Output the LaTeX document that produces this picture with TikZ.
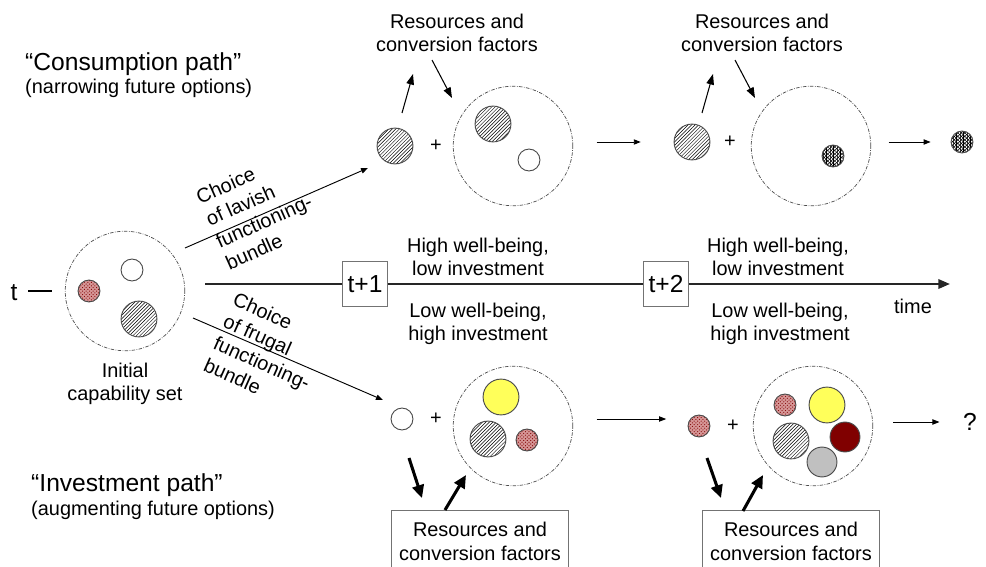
\documentclass[tikz,border=0pt]{standalone}
\usepackage{fontspec}
\setmainfont{Liberation Sans}
\usetikzlibrary{arrows.meta,patterns,positioning}

\definecolor{fnyellow}{RGB}{255,255,90}
\definecolor{fndark}{RGB}{128,0,0}
\definecolor{fngray}{RGB}{192,192,192}
\definecolor{fnpink}{RGB}{214,150,150}

\tikzset{
    txt/.style={font=\fontsize{17}{20}\selectfont, inner sep=0pt},
    bigtxt/.style={font=\fontsize{21}{24}\selectfont, inner sep=0pt},
    capset/.style={circle, draw=black!70, line width=0.6pt,
        dash pattern=on 3pt off 1.2pt on 0.6pt off 1.2pt,
        minimum size=102pt, inner sep=0pt},
    fn/.style={circle, draw=black!70, line width=0.8pt, inner sep=0pt},
    fnL/.style={fn, minimum size=30.6pt},
    fnM/.style={fn, minimum size=25.5pt},
    fnS/.style={fn, minimum size=18.7pt},
    hatched/.style={pattern=north east lines},
    reddots/.style={preaction={fill=fnpink}, pattern=crosshatch dots,
        pattern color=fndark},
    blackgrid/.style={preaction={pattern=vertical lines}, pattern=crosshatch},
    tbox/.style={draw=black!55, line width=0.6pt, minimum width=38pt,
        minimum height=38pt, inner sep=0pt, font=\fontsize{21}{24}\selectfont},
    resbox/.style={draw=black!55, line width=0.6pt, minimum width=151pt,
        minimum height=52.7pt, align=center, font=\fontsize{17}{20.5}\selectfont},
    thinarr/.style={line width=0.8pt, -{Triangle[length=6pt,width=4.5pt]}},
    resarr/.style={line width=0.9pt, -{Triangle[length=9pt,width=6.5pt]}},
    boldarr/.style={line width=2.6pt, -{Triangle[length=11pt,width=10pt]}},
    timeline/.style={line width=2pt, black!85, -{Triangle[length=10pt,width=8pt]}}
}

\begin{document}
\begin{tikzpicture}[x=0.03cm, y=-0.03cm]
    \useasboundingbox (0,0) rectangle (986,567);

    % path titles
    \node[bigtxt, anchor=base west] (conslab) at (25,71) {“Consumption path”};
    \node[txt, anchor=base west] (conssub) at (25,94) {(narrowing future options)};
    \node[bigtxt, anchor=base west] (invlab) at (31,491) {“Investment path”};
    \node[txt, anchor=base west] (invsub) at (31,515) {(augmenting future options)};

    % initial capability set
    \node[bigtxt] (tlab) at (14,293) {t};
    \node[capset] (init) at (125,291) {};
    \node[fnS] (i1) at (132,270) {};
    \node[fnS, reddots] (i2) at (89,291) {};
    \node[fnL, hatched] (i3) at (139,319) {};
    \node[txt, align=center] (initlab) at (125,384) {Initial\\capability set};
    \draw[line width=1pt, shorten <=9pt, shorten >=11pt] (tlab.east |- init) -- (init.west);

    % time axis
    \coordinate (tl0) at (205,284);
    \coordinate (tlend) at (950,284);
    \node[tbox] (tp1) at (365,284) {t+1};
    \node[tbox] (tp2) at (666,284) {t+2};
    \draw[timeline] (tl0) -- (tp1.west) (tp1.east) -- (tp2.west) (tp2.east) -- (tlend);
    \node[txt] (timelab) at (913,306) {time};
    \node[txt, align=center] (hw1) at (478,257) {High well-being,\\low investment};
    \node[txt, align=center] (lw1) at (478,324) {Low well-being,\\high investment};
    \node[txt, align=center] (hw2) at (778,257) {High well-being,\\low investment};
    \node[txt, align=center] (lw2) at (780,324) {Low well-being,\\high investment};

    % choices
    \coordinate (lavA) at (185,248);
    \coordinate (lavB) at (368,168);
    \coordinate (fruA) at (193,318);
    \coordinate (fruB) at (383,400);
    \draw[thinarr] (lavA) -- (lavB);
    \draw[thinarr] (fruA) -- (fruB);
    \node[txt, align=left, rotate=24, font=\fontsize{17}{20.5}\selectfont] (lavlab) at (259,210)
        {Choice\\of lavish\\functioning-\\bundle};
    \node[txt, align=left, rotate=-24, font=\fontsize{17}{20.5}\selectfont] (frulab) at (267,352)
        {Choice\\of frugal\\functioning-\\bundle};

    % consumption path, t+1
    \node[fnL, hatched] (c1) at (395,146) {};
    \node[txt] (cplus1) at (436,146) {+};
    \node[capset] (cset1) at (513,146) {};
    \node[fnL, hatched] (c1a) at (493,124) {};
    \node[fnS] (c1b) at (529,160) {};
    \node[txt, align=center] (cres1) at (457,33) {Resources and\\conversion factors};
    \coordinate (cu1) at (402,113);
    \coordinate (cu1e) at (413,74);
    \coordinate (cd1) at (432,60);
    \coordinate (cd1e) at (452,98);
    \draw[resarr] (cu1) -- (cu1e);
    \draw[resarr] (cd1) -- (cd1e);

    % consumption path, t+2
    \node[fnL, hatched] (c2) at (692,142) {};
    \node[txt] (cplus2) at (730,142) {+};
    \node[capset] (cset2) at (811,146) {};
    \node[fnS, blackgrid] (c2a) at (833,156) {};
    \node[txt, align=center] (cres2) at (762,33) {Resources and\\conversion factors};
    \coordinate (cu2) at (702,113);
    \coordinate (cu2e) at (713,74);
    \coordinate (cd2) at (735,60);
    \coordinate (cd2e) at (755,98);
    \draw[resarr] (cu2) -- (cu2e);
    \draw[resarr] (cd2) -- (cd2e);
    \node[fnS, blackgrid] (cend) at (962,142) {};
    \draw[thinarr, shorten <=20pt, shorten >=28pt] (cset1.east |- c2) -- (c2);
    \draw[thinarr, shorten <=15pt, shorten >=17pt] (cset2.east |- cend) -- (cend);

    % investment path, t+1
    \node[fnS] (v1) at (402,419) {};
    \node[txt] (vplus1) at (436,419) {+};
    \node[capset] (vset1) at (513,426) {};
    \node[fnL, fill=fnyellow] (v1a) at (501,397) {};
    \node[fnL, hatched] (v1b) at (488,439) {};
    \node[fnS, reddots] (v1c) at (527,440) {};
    \node[resbox] (vres1) at (480,541) {Resources and\\conversion factors};
    \coordinate (vd1) at (409,458);
    \coordinate (vd1e) at (422,498);
    \coordinate (vu1) at (445,510);
    \coordinate (vu1e) at (466,475);
    \draw[boldarr] (vd1) -- (vd1e);
    \draw[boldarr] (vu1) -- (vu1e);

    % investment path, t+2
    \node[fnS, reddots] (v2) at (699,426) {};
    \node[txt] (vplus2) at (733,426) {+};
    \node[capset] (vset2) at (813,426) {};
    \node[fnS, reddots] (v2a) at (785,405) {};
    \node[fnL, fill=fnyellow] (v2b) at (827,405) {};
    \node[fnL, hatched] (v2c) at (791,441) {};
    \node[fnM, fill=fndark] (v2d) at (845,437) {};
    \node[fnM, fill=fngray] (v2e) at (822,462) {};
    \node[resbox] (vres2) at (791,541) {Resources and\\conversion factors};
    \coordinate (vd2) at (707,458);
    \coordinate (vd2e) at (721,498);
    \coordinate (vu2) at (743,511);
    \coordinate (vu2e) at (763,475);
    \draw[boldarr] (vd2) -- (vd2e);
    \draw[boldarr] (vu2) -- (vu2e);
    \node[bigtxt] (qm) at (970,422) {?};
    \draw[thinarr, shorten <=20pt, shorten >=28pt] (vset1.east |- v1) -- (v1 -| v2);
    \draw[thinarr, shorten <=17pt, shorten >=20pt] (vset2.east |- qm) -- (qm);
\end{tikzpicture}
\end{document}
